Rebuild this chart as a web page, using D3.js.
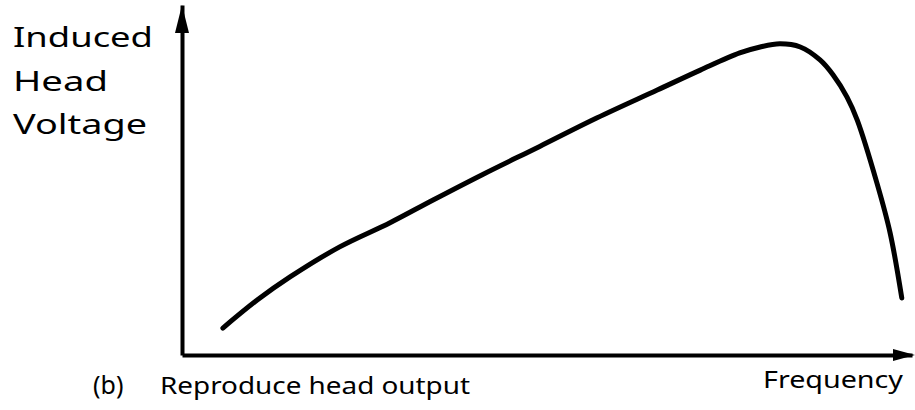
<!DOCTYPE html>
<html lang="en">
<head>
<meta charset="utf-8">
<style>
  body { margin: 0; background: #fff; }
  svg text { font-family: "Noto Sans", sans-serif; fill: #000; }
</style>
</head>
<body>
<script src="https://cdn.jsdelivr.net/npm/d3@7"></script>
<script>
// response curve, arbitrary units (frequency 0-100, voltage 0-100)
const frequency = [5.6, 10.3, 14.8, 21.6, 28.5, 34.4, 41.2, 49.0, 56.8, 65.1, 71.0, 76.4, 79.2, 81.9, 84.7, 87.4, 89.2, 91.1, 92.5, 95.2, 97.0, 98.6];
const voltage   = [7.7, 15.7, 22.3, 30.9, 37.8, 44.3, 51.6, 59.6, 67.7, 75.7, 81.4, 86.3, 88.0, 88.9, 88.0, 84.3, 80.0, 73.7, 67.1, 49.1, 34.9, 16.3];

const yLabelLines = ["Induced", "Head", "Voltage"];
const xLabel = "Frequency";
const caption = ["(b)", "Reproduce head output"];

const W = 915, H = 410;
const svg = d3.select("body").append("svg")
  .attr("width", W)
  .attr("height", H);

var x = d3.scaleLinear().domain([0, 100]).range([182, 912]);
var y = d3.scaleLinear().domain([0, 100]).range([355, 5]);

// axes, no ticks, just the lines
svg.append("g")
  .attr("transform", "translate(" + x(0) + ",0)")
  .call(d3.axisLeft(y).ticks(0).tickSizeOuter(0))
  .call(g => g.select(".domain").attr("stroke", "#000").attr("stroke-width", 4));

svg.append("g")
  .attr("transform", "translate(0," + y(0) + ")")
  .call(d3.axisBottom(x).ticks(0).tickSizeOuter(0))
  .call(g => g.select(".domain").attr("stroke", "#000").attr("stroke-width", 4));

// arrow heads
const x0 = x(0), y0 = y(0);
svg.append("path")
  .attr("d", `M${x0},${y(100)} L${x0 + 7},${y(100) + 28} L${x0 - 7},${y(100) + 28} Z`)
  .attr("fill", "#000");
svg.append("path")
  .attr("d", `M${W},${y0} L${W - 22},${y0 - 6} L${W - 22},${y0 + 6} Z`)
  .attr("fill", "#000");

// the curve
const pts = frequency.map((f, i) => [f, voltage[i]]);
const line = d3.line()
  .x(d => x(d[0]))
  .y(d => y(d[1]))
  .curve(d3.curveCatmullRom.alpha(0.5));

svg.append("path")
  .datum(pts)
  .attr("d", line)
  .attr("fill", "none")
  .attr("stroke", "#000")
  .attr("stroke-width", 5)
  .attr("stroke-linecap", "round");

// y label, three lines
const yWidths = [140, 95, 134];
const yBase = [47, 91, 134];
yLabelLines.forEach((t, i) => {
  svg.append("text")
    .attr("x", 13)
    .attr("y", yBase[i])
    .attr("font-size", 27)
    .attr("textLength", yWidths[i])
    .attr("lengthAdjust", "spacingAndGlyphs")
    .text(t);
});

// x label
svg.append("text")
  .attr("x", 763)
  .attr("y", 388)
  .attr("font-size", 24)
  .attr("textLength", 140)
  .attr("lengthAdjust", "spacingAndGlyphs")
  .text(xLabel);

// caption
svg.append("text")
  .attr("x", 93)
  .attr("y", 394)
  .attr("font-size", 25)
  .text(caption[0]);
svg.append("text")
  .attr("x", 160)
  .attr("y", 394)
  .attr("font-size", 24)
  .attr("textLength", 310)
  .attr("lengthAdjust", "spacingAndGlyphs")
  .text(caption[1]);
</script>
</body>
</html>
